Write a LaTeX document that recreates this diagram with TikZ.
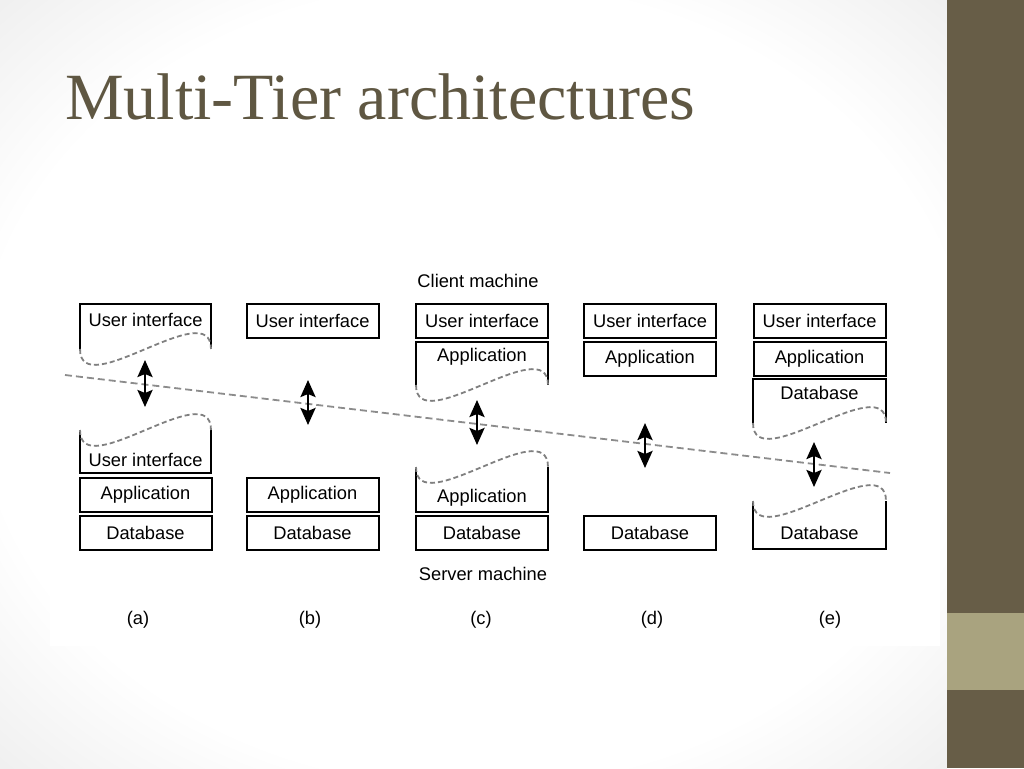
\documentclass[tikz,border=0pt]{standalone}
\usepackage{fontspec}
\setmainfont{Liberation Serif}
\newfontfamily\diagfont{Liberation Sans}
\usetikzlibrary{arrows.meta}
\definecolor{olive}{HTML}{675D47}
\definecolor{olivelight}{HTML}{A9A37F}
\definecolor{titlecol}{HTML}{5F5742}
\pgfdeclareradialshading{slidebg}{\pgfpoint{0bp}{0bp}}{color(0bp)=(white); color(26bp)=(white); color(40bp)=(black!9); color(50bp)=(black!13)}

\begin{document}
\begin{tikzpicture}[x=1pt,y=-1pt,
    tier/.style={draw, line width=2pt, minimum width=132pt, minimum height=34pt, inner sep=0pt, font=\diagfont\fontsize{18.3}{20}\selectfont},
    lbl/.style={inner sep=0pt, font=\diagfont\fontsize{18.3}{20}\selectfont},
    wave/.style={draw=black!50, line width=1.8pt, dash pattern=on 5pt off 3pt},
    cut/.style={draw=black!45, line width=1.8pt, dash pattern=on 7pt off 4pt},
    link/.style={line width=2.6pt, {Stealth[length=17pt,width=15pt,inset=3pt]}-{Stealth[length=17pt,width=15pt,inset=3pt]}}]
    \useasboundingbox (0,0) rectangle (1024,768);
    \shade[shading=slidebg] (0,0) rectangle (947,768);
    \fill[white] (50,238) rectangle (940,646);
    \fill[olive] (947,0) rectangle (1024,768);
    \fill[olivelight] (947,613) rectangle (1024,690);
    \node[anchor=base west, inner sep=0pt, text=titlecol, font=\fontsize{66}{70}\selectfont] (T) at (65,119) {Multi-Tier architectures};

    % (a)
    \draw[line width=2pt] (80,349) |- (211,304) -- (211,349);
    \draw[wave] (80,349) .. controls +(0,55) and +(0,-55) .. (211,349);
    \node[lbl] (aUI) at (145.5,320) {User interface};
    \draw[line width=2pt] (80,430) |- (211,473) -- (211,430);
    \draw[wave] (80,430) .. controls +(0,55) and +(0,-55) .. (211,430);
    \node[lbl] (aUIs) at (145.5,460) {User interface};
    \node[tier] (aApp) at (145.5,495) {Application};
    \node[tier] (aDB) at (145.5,532.5) {Database};

    % (b)
    \node[tier] (bUI) at (312.5,321) {User interface};
    \node[tier] (bApp) at (312.5,495) {Application};
    \node[tier] (bDB) at (312.5,532.5) {Database};

    % (c)
    \node[tier] (cUI) at (482,321) {User interface};
    \draw[line width=2pt] (416,385) |- (548,342) -- (548,385);
    \draw[wave] (416,385) .. controls +(0,55) and +(0,-55) .. (548,385);
    \node[lbl] (cApp) at (482,357) {Application};
    \draw[line width=2pt] (416,467) |- (548,512) -- (548,467);
    \draw[wave] (416,467) .. controls +(0,55) and +(0,-55) .. (548,467);
    \node[lbl] (cApps) at (482,498) {Application};
    \node[tier] (cDB) at (482,532.5) {Database};

    % (d)
    \node[tier] (dUI) at (650,321) {User interface};
    \node[tier] (dApp) at (650,359) {Application};
    \node[tier] (dDB) at (650,532.5) {Database};

    % (e)
    \node[tier] (eUI) at (819.5,321) {User interface};
    \node[tier] (eApp) at (819.5,359) {Application};
    \draw[line width=2pt] (753,423) |- (886,379) -- (886,423);
    \draw[wave] (753,423) .. controls +(0,55) and +(0,-55) .. (886,423);
    \node[lbl] (eDB) at (819.5,393) {Database};
    \draw[line width=2pt] (753,501) |- (886,549) -- (886,501);
    \draw[wave] (753,501) .. controls +(0,55) and +(0,-55) .. (886,501);
    \node[lbl] (eDBs) at (819.5,533) {Database};

    % client/server split
    \coordinate (cutL) at (65,375);
    \coordinate (cutR) at (890,473);
    \draw[cut] (cutL) -- (cutR);

    \coordinate (aTop) at (145,360); \coordinate (aBot) at (145,407);
    \coordinate (bTop) at (308,380); \coordinate (bBot) at (308,425);
    \coordinate (cTop) at (477,400); \coordinate (cBot) at (477,445);
    \coordinate (dTop) at (645,423); \coordinate (dBot) at (645,468);
    \coordinate (eTop) at (814,442); \coordinate (eBot) at (814,487);
    \foreach \c in {a,b,c,d,e}
        \draw[link] (\c Top) -- (\c Bot);

    \node[lbl] (client) at (478,281) {Client machine};
    \node[lbl] (server) at (483,574) {Server machine};
    \node[lbl] (la) at (138,620) {(a)};
    \node[lbl] (lb) at (310,620) {(b)};
    \node[lbl] (lc) at (481,620) {(c)};
    \node[lbl] (ld) at (652,620) {(d)};
    \node[lbl] (le) at (830,620) {(e)};
\end{tikzpicture}
\end{document}
